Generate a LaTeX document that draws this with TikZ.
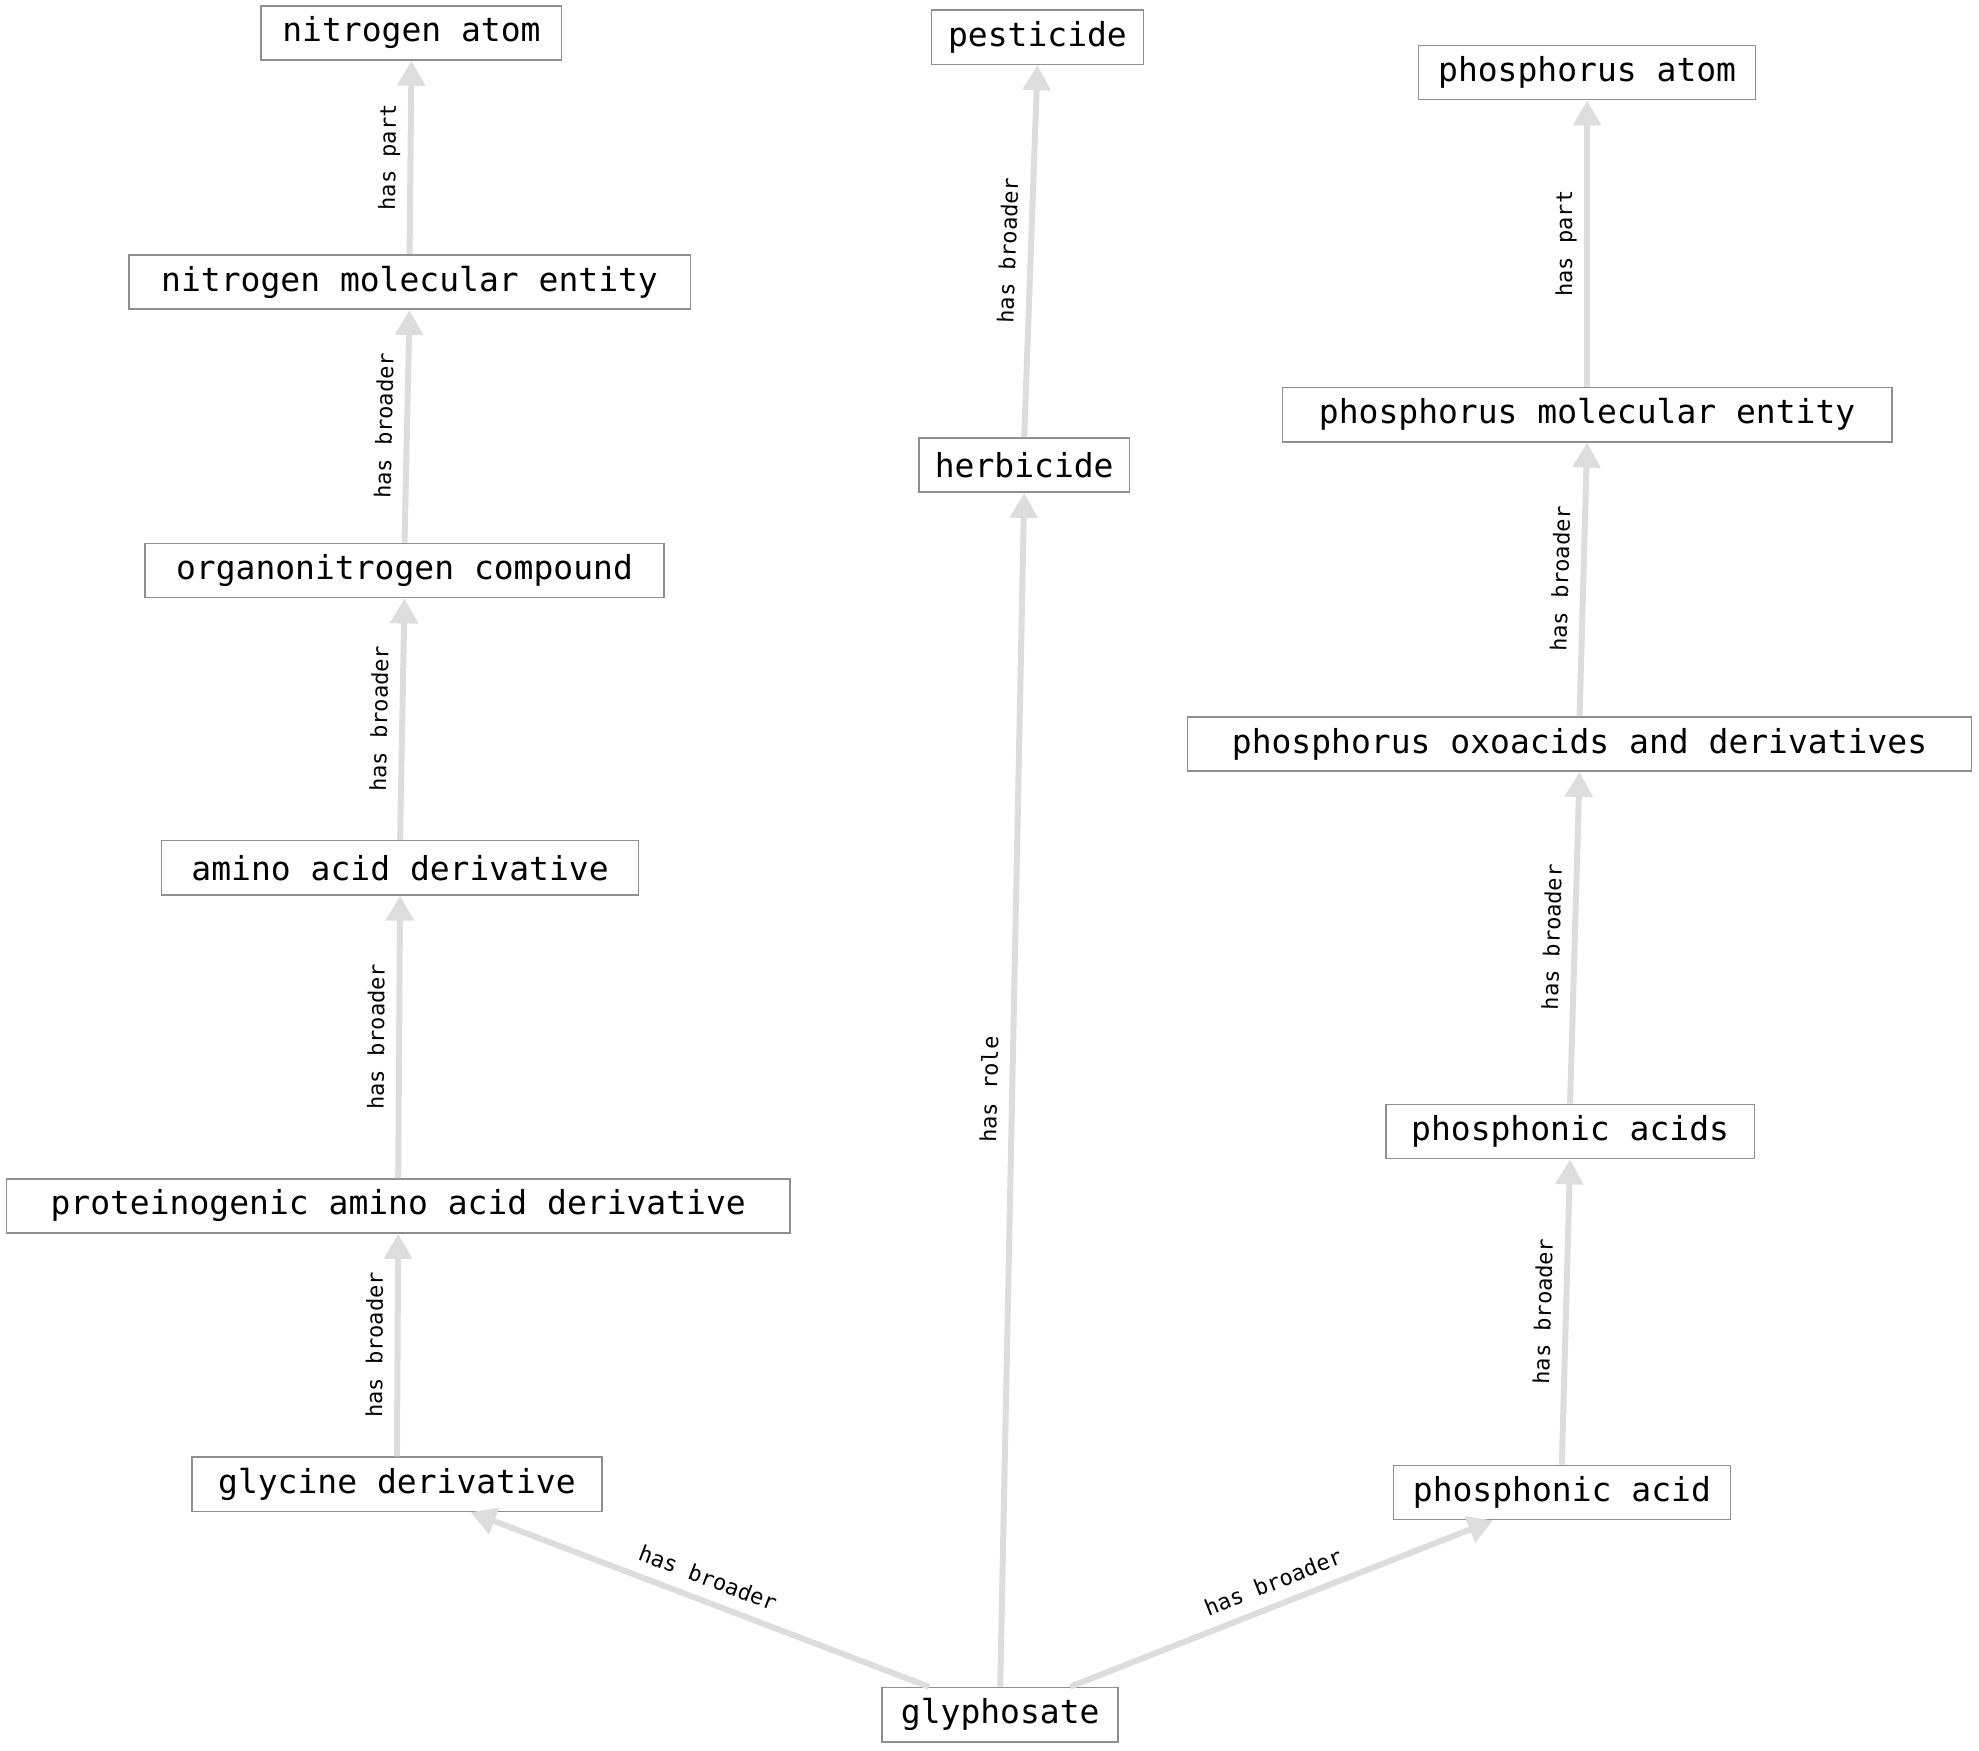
\documentclass[tikz,border=0pt]{standalone}
\usepackage{fontspec}
\usetikzlibrary{arrows.meta}
\newfontfamily\nodefont{DejaVu Sans Mono}
\newfontfamily\labelfont{DejaVu Sans Mono}
\definecolor{edgegray}{HTML}{DDDDDD}
\definecolor{boxgray}{HTML}{8F8F8F}
\tikzset{
  concept/.style={draw=boxgray, line width=0.8pt, fill=white, inner sep=0pt,
    minimum height=27.1pt, font=\nodefont\fontsize{16.5}{19}\selectfont},
  rel/.style={draw=edgegray, line width=3pt, -{Triangle[length=12.5pt,width=13.5pt]}},
  rellabel/.style={midway, sloped, above=6pt, inner sep=0pt, text depth=0pt,
    font=\labelfont\fontsize{11}{13}\selectfont},
}
\begin{document}
\begin{tikzpicture}[x=0.6311pt,y=-0.6311pt]
\useasboundingbox (0,0) rectangle (1568,1386.6);

% left column
\node[concept, minimum width=150.2pt] (natom) at (326,26) {nitrogen atom};
\node[concept, minimum width=280.8pt] (nmol) at (324.5,223.5) {nitrogen molecular entity};
\node[concept, minimum width=259.4pt] (orgn) at (320.5,452) {organonitrogen compound};
\node[concept, minimum width=238.6pt] (aad) at (317,687.5) {amino acid derivative};
\node[concept, minimum width=391.9pt] (paad) at (315.5,955.5) {proteinogenic amino acid derivative};
\node[concept, minimum width=205.1pt] (glyd) at (314.5,1176) {glycine derivative};

% middle column
\node[concept, minimum width=118.0pt] (glyph) at (792.5,1358.5) {glyphosate};
\node[concept, minimum width=105.4pt] (herb) at (811.5,368.5) {herbicide};
\node[concept, minimum width=106.0pt] (pest) at (822,29.5) {pesticide};

% right column
\node[concept, minimum width=168.5pt] (patom) at (1257.5,57.5) {phosphorus atom};
\node[concept, minimum width=304.8pt] (pmol) at (1257.5,328.5) {phosphorus molecular entity};
\node[concept, minimum width=391.9pt] (poxo) at (1251.5,589.5) {phosphorus oxoacids and derivatives};
\node[concept, minimum width=184.3pt] (pacids) at (1244,896.5) {phosphonic acids};
\node[concept, minimum width=168.5pt] (pacid) at (1237.5,1182.5) {phosphonic acid};

% edges from glyphosate
\draw[rel] ([xshift=-35.7pt]glyph.north) -- ([xshift=36.9pt]glyd.south)
  node[rellabel] {has broader};
\draw[rel] (glyph.north) -- (herb.south) node[rellabel] {has role};
\draw[rel] ([xshift=35.0pt]glyph.north) -- ([xshift=-34.4pt]pacid.south)
  node[rellabel] {has broader};

% left chain
\draw[rel] (glyd.north) -- (paad.south) node[rellabel] {has broader};
\draw[rel] (paad.north) -- (aad.south) node[rellabel] {has broader};
\draw[rel] (aad.north) -- (orgn.south) node[rellabel] {has broader};
\draw[rel] (orgn.north) -- (nmol.south) node[rellabel] {has broader};
\draw[rel] (nmol.north) -- (natom.south) node[rellabel] {has part};

% middle chain
\draw[rel] (herb.north) -- (pest.south) node[rellabel] {has broader};

% right chain
\draw[rel] (pacid.north) -- (pacids.south) node[rellabel] {has broader};
\draw[rel] (pacids.north) -- (poxo.south) node[rellabel] {has broader};
\draw[rel] (poxo.north) -- (pmol.south) node[rellabel] {has broader};
\draw[rel] (pmol.north) -- (patom.south) node[rellabel] {has part};
\end{tikzpicture}
\end{document}
